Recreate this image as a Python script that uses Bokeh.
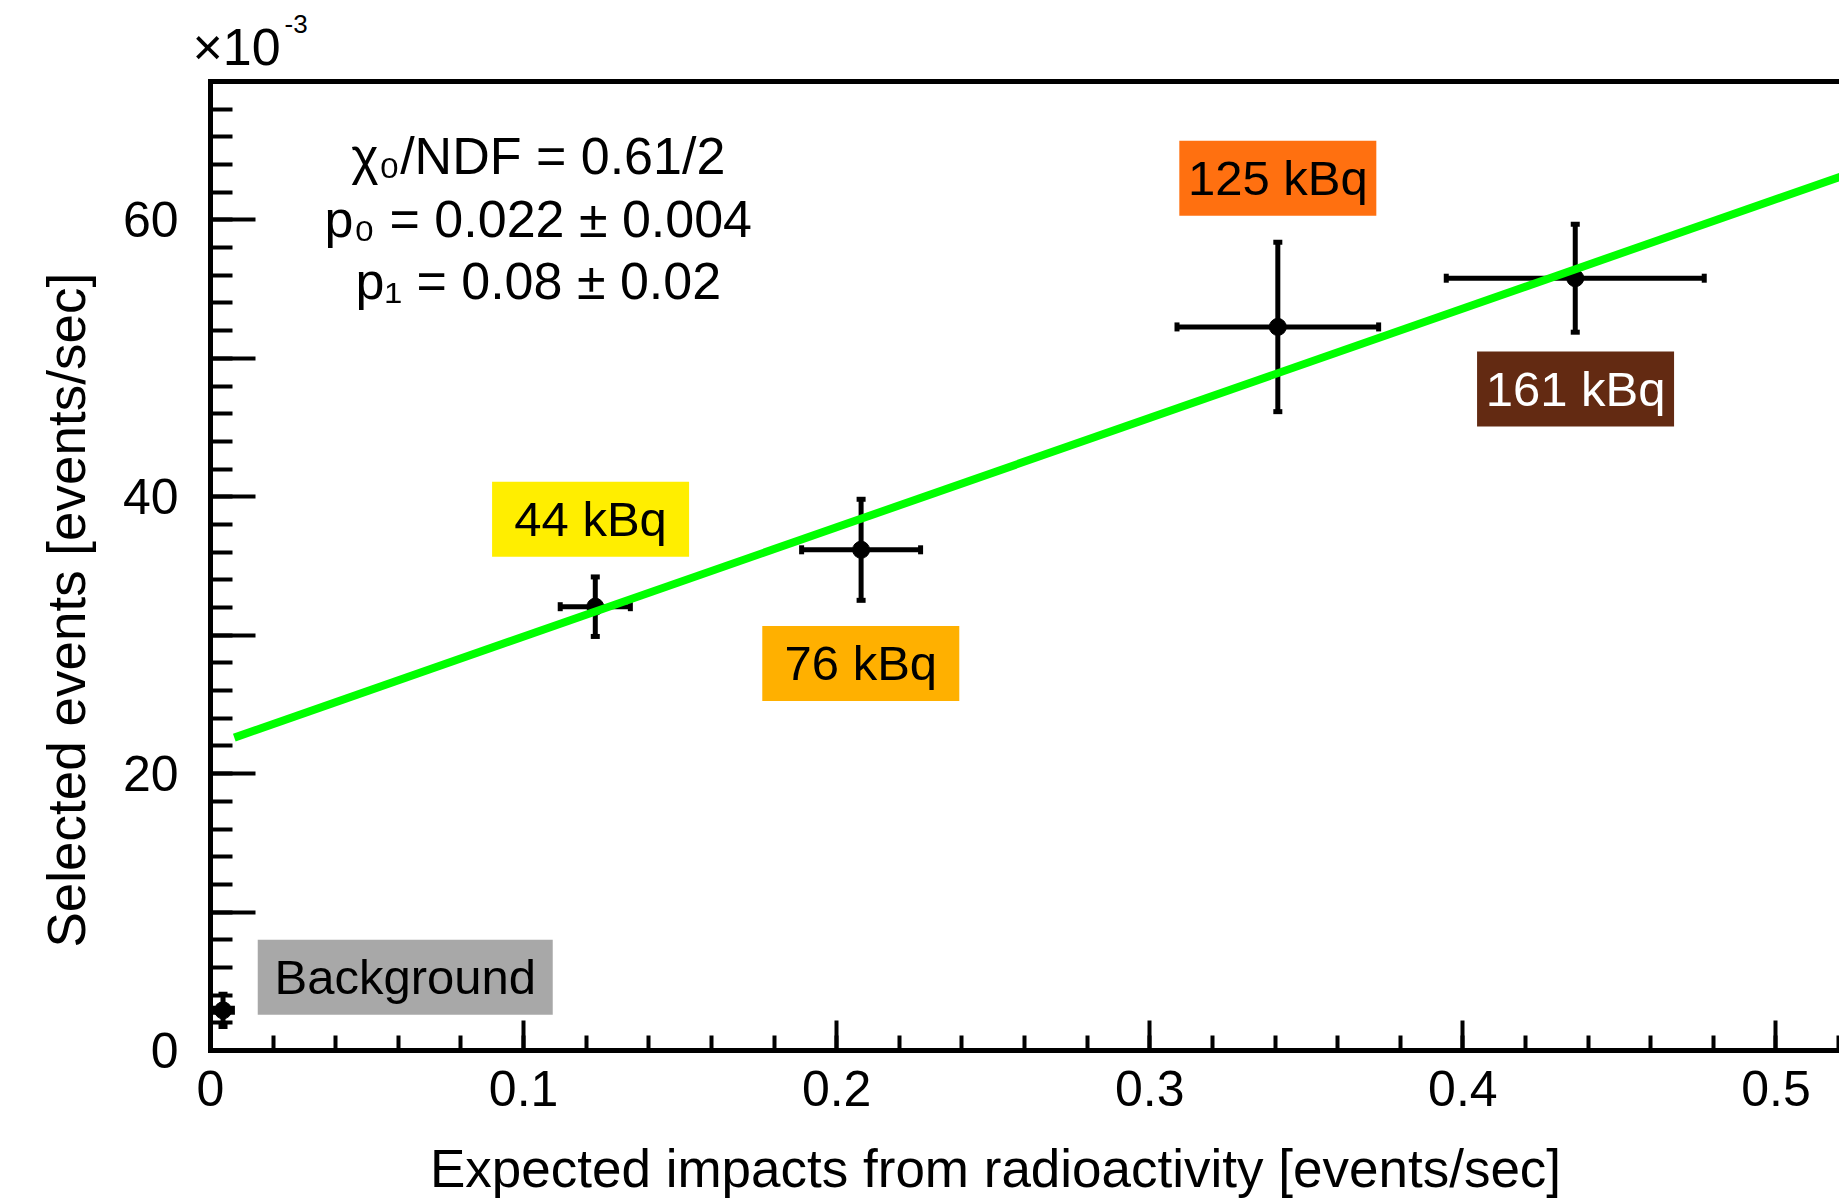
from bokeh.plotting import figure
from bokeh.models import (ColumnDataSource, FixedTicker, LinearAxis, Range1d,
                          Whisker, TeeHead)
from bokeh.core.properties import value
from bokeh.embed import file_html
from bokeh.resources import INLINE

FONT = "Liberation Sans"
NBSP = "\u00a0"

# ---- data (y in units of 1e-3 events/sec) ----
point_names = ["Background", "44 kBq", "76 kBq", "125 kBq", "161 kBq"]
x_vals = [0.004, 0.1229, 0.2078, 0.3409, 0.4359]
x_errs = [0.003, 0.0112, 0.0190, 0.0322, 0.0412]
y_vals = [2.9, 32.06, 36.17, 52.27, 55.79]
y_errs = [1.16, 2.15, 3.65, 6.12, 3.90]

# linear fit  y = p0 + p1 * x   (in 1e-3 units)
fit_p0 = 22.0
fit_p1 = 79.0
fit_x_limits = [0.0076, 0.56]
fit_text = ["χ₀/NDF = 0.61/2", "p₀ = 0.022 ± 0.004", "p₁ = 0.08 ± 0.02"]
fit_text_x = [0.1047, 0.1047, 0.1047]
fit_text_y = [64.65, 60.07, 55.60]

# labelled boxes
label_x = [0.0622, 0.1214, 0.2077, 0.3409, 0.4360]
label_y = [5.30, 38.38, 27.96, 63.01, 47.79]
label_fill = ["#a8a8a8", "#ffee00", "#ffb000", "#ff7010", "#632a12"]
label_text_color = ["black", "black", "black", "black", "white"]
label_box_w = [295, 197, 197, 197, 197]

# axes
x_major = [0.0, 0.1, 0.2, 0.3, 0.4, 0.5]
x_minor = [round(0.02 * i, 2) for i in range(0, 27)]
y_major = [0, 10, 20, 30, 40, 50, 60, 70]
y_minor = list(range(0, 71, 2))
y_unlabelled = [10, 30, 50, 70]
x_title = "Expected impacts from radioactivity [events/sec]"
y_title = "Selected events [events/sec]"
exp_base = "×10"
exp_power = "-3"
exp_base_x = 0.0083

# ---- figure ----
p = figure(width=1839, height=1202,
           x_range=Range1d(0, 0.5203), y_range=Range1d(0, 70),
           output_backend="svg", toolbar_location=None,
           min_border_left=210, min_border_right=0,
           min_border_top=81, min_border_bottom=152,
           x_axis_label=x_title + NBSP * 4,
           y_axis_label=y_title + NBSP * 6)
p.outline_line_color = None
p.grid.visible = False
p.background_fill_color = "white"
p.border_fill_color = "white"

xa = p.xaxis[0]
ya = p.yaxis[0]
xa.ticker = FixedTicker(ticks=x_major, minor_ticks=x_minor)
ya.ticker = FixedTicker(ticks=y_major, minor_ticks=y_minor)
xa.major_label_overrides = {0: "0"}
ya.major_label_overrides = {v: "" for v in y_unlabelled}

for ax in (xa, ya):
    ax.axis_line_width = 5
    ax.axis_line_color = "black"
    ax.axis_line_cap = "square"
    ax.major_tick_line_width = 4
    ax.minor_tick_line_width = 4
    ax.major_tick_line_color = "black"
    ax.minor_tick_line_color = "black"
    ax.major_tick_out = 0
    ax.minor_tick_out = 0
    ax.major_label_text_font = FONT
    ax.major_label_text_font_size = "50px"
    ax.major_label_text_color = "black"
    ax.axis_label_text_font = FONT
    ax.axis_label_text_font_size = "53px"
    ax.axis_label_text_font_style = "normal"
    ax.axis_label_text_color = "black"

xa.major_tick_in = 30
xa.minor_tick_in = 15
ya.major_tick_in = 45
ya.minor_tick_in = 22
xa.major_label_standoff = 20
xa.axis_label_standoff = 30
ya.major_label_standoff = 32
ya.axis_label_standoff = 24

# top frame line, carrying the "×10" of the exponent as its only label
top = LinearAxis(ticker=FixedTicker(ticks=[exp_base_x], minor_ticks=[]),
                 axis_line_width=5, axis_line_color="black",
                 axis_line_cap="square",
                 major_label_overrides={exp_base_x: exp_base},
                 major_label_text_font=FONT,
                 major_label_text_font_size="52px",
                 major_label_text_color="black",
                 major_label_standoff=6,
                 major_tick_in=0, major_tick_out=0,
                 minor_tick_in=0, minor_tick_out=0)
p.add_layout(top, "above")

# exponent power as the plot title, pulled down next to "×10"
p.title.text = exp_power
p.title.align = "left"
p.title.offset = 74
p.title.standoff = -37
p.title.text_font = FONT
p.title.text_font_size = "26px"
p.title.text_font_style = "normal"
p.title.text_color = "black"

# ---- error bars ----
src = ColumnDataSource(dict(
    x=x_vals, y=y_vals,
    xlo=[a - b for a, b in zip(x_vals, x_errs)],
    xhi=[a + b for a, b in zip(x_vals, x_errs)],
    ylo=[a - b for a, b in zip(y_vals, y_errs)],
    yhi=[a + b for a, b in zip(y_vals, y_errs)],
))

def head():
    return TeeHead(size=9, line_width=5, line_color="black")

p.add_layout(Whisker(base="x", lower="ylo", upper="yhi", dimension="height",
                     source=src, line_width=5, line_color="black",
                     lower_head=head(), upper_head=head()))
p.add_layout(Whisker(base="y", lower="xlo", upper="xhi", dimension="width",
                     source=src, line_width=5, line_color="black",
                     lower_head=head(), upper_head=head()))
p.scatter("x", "y", source=src, size=17, color="black")

# ---- label boxes ----
lab_src = ColumnDataSource(dict(x=label_x, y=label_y, text=point_names,
                                fill=label_fill, tc=label_text_color,
                                w=label_box_w))
p.rect("x", "y", width="w", height=75, width_units="screen",
       height_units="screen", fill_color="fill", line_color=None,
       source=lab_src)
p.text("x", "y", text="text", source=lab_src, text_align="center",
       text_baseline="middle", text_color="tc",
       text_font=value(FONT), text_font_size="49px")

# ---- fit line ----
fit_y = [fit_p0 + fit_p1 * xx for xx in fit_x_limits]
p.line(fit_x_limits, fit_y, line_color="#00ff00", line_width=8)

# ---- fit statistics ----
p.text(fit_text_x, fit_text_y, text=fit_text, text_align="center",
       text_baseline="middle", text_color="black",
       text_font=value(FONT), text_font_size="52px")

open("out.html", "w").write(file_html(p, INLINE))
